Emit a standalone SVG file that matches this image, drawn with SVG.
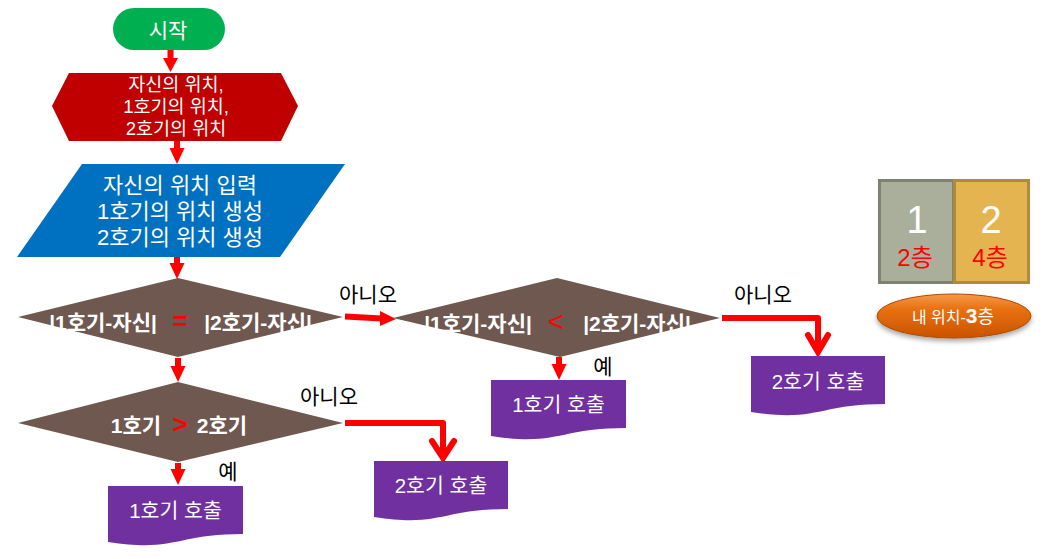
<svg xmlns="http://www.w3.org/2000/svg" width="1048" height="559" viewBox="0 0 1048 559">
<style>
text{font-family:"Liberation Sans","Noto Sans CJK KR",sans-serif}
.w{fill:#fff}
.c{text-anchor:middle}
.lbl{fill:#000;font-size:21px}
.dia{fill:#6f5850}
.doc{fill:#7030a0}
.dt{fill:#fff;font-size:20.5px;text-anchor:middle}
.bt{fill:#fff;font-size:21px;font-weight:bold;text-anchor:middle}
.shaft{stroke:#ff0000;stroke-width:6;fill:none}
.head{fill:#ff0000}
.elbow{stroke:#ff0000;stroke-width:6;fill:none;stroke-linejoin:round}
.chev{stroke:#ff0000;stroke-width:6;fill:none;stroke-linecap:round;stroke-linejoin:miter}
</style>
<defs>
<linearGradient id="og" x1="0" y1="0" x2="0" y2="1">
<stop offset="0" stop-color="#f59a4a"/>
<stop offset="0.35" stop-color="#e8700f"/>
<stop offset="1" stop-color="#c95400"/>
</linearGradient>
<filter id="sh" x="-20%" y="-30%" width="140%" height="170%">
<feDropShadow dx="0" dy="3" stdDeviation="2.5" flood-color="#000" flood-opacity="0.35"/>
</filter>
</defs>

<g id="connectors">
<line class="shaft" x1="170.5" y1="50" x2="170.5" y2="60"/>
<polygon class="head" points="163,58 178,58 170.5,72"/>
<line class="shaft" x1="177" y1="141" x2="177" y2="150"/>
<polygon class="head" points="169.5,148 184.5,148 177,164"/>
<line class="shaft" x1="177" y1="257" x2="177" y2="265"/>
<polygon class="head" points="169.5,263 184.5,263 177,279"/>
<line class="shaft" x1="345" y1="316.5" x2="382" y2="318.5"/>
<polygon class="head" points="380,311 380,326 396,319"/>
<line class="shaft" x1="178" y1="358" x2="178" y2="368"/>
<polygon class="head" points="170.5,366 185.5,366 178,382"/>
<line class="shaft" x1="178" y1="463" x2="178" y2="471"/>
<polygon class="head" points="170.5,469 185.5,469 178,485"/>
<line class="shaft" x1="559" y1="357" x2="559" y2="366"/>
<polygon class="head" points="551.5,364 566.5,364 559,380"/>
<polyline class="elbow" points="345,423 443,423 443,457"/>
<polyline class="chev" points="432,441 443,458 454,441"/>
<polyline class="elbow" points="722,318 818,318 818,352"/>
<polyline class="chev" points="808,335 818,352 828,335"/>
<text class="lbl" x="368" y="302" text-anchor="middle">아니오</text>
<text class="lbl" x="763" y="302" text-anchor="middle">아니오</text>
<text class="lbl" x="329" y="404" text-anchor="middle">아니오</text>
<text class="lbl" x="603" y="374" text-anchor="middle">예</text>
<text class="lbl" x="228" y="479" text-anchor="middle">예</text>
</g>

<g id="start">
<rect x="113" y="8" width="112" height="42" rx="21" fill="#00b050"/>
<text class="w c" x="168" y="38" font-size="21">시작</text>
</g>

<g id="hexagon">
<polygon points="52,106 69,73 281,73 298,106 281,141 69,141" fill="#c00000"/>
<text class="w c" font-size="18.5" x="176" y="91">자신의 위치,</text>
<text class="w c" font-size="18.5" x="176" y="113">1호기의 위치,</text>
<text class="w c" font-size="18.5" x="176" y="135">2호기의 위치</text>
</g>

<g id="input">
<polygon points="82,164 345,164 280,257 17,257" fill="#0070c0"/>
<text class="w c" font-size="22" x="180" y="193">자신의 위치 입력</text>
<text class="w c" font-size="22" x="180" y="219">1호기의 위치 생성</text>
<text class="w c" font-size="22" x="180" y="245">2호기의 위치 생성</text>
</g>

<g id="decision1">
<polygon class="dia" points="18,317 178,278 343,317 178,357"/>
<text class="bt" x="103" y="330">|1호기-자신|</text>
<text x="180" y="330" font-size="26" font-weight="bold" fill="#ff0000" text-anchor="middle">=</text>
<text class="bt" x="258" y="330">|2호기-자신|</text>
</g>

<g id="decision2">
<polygon class="dia" points="393,318 557,278 720,318 560,357"/>
<text class="bt" x="478" y="331">|1호기-자신|</text>
<text x="556" y="331" font-size="28" fill="#ff0000" text-anchor="middle">&lt;</text>
<text class="bt" x="637" y="331">|2호기-자신|</text>
</g>

<g id="decision3">
<polygon class="dia" points="18,423 178,382 343,423 178,462"/>
<text class="bt" x="136" y="433">1호기</text>
<text x="180" y="433" font-size="26" font-weight="bold" fill="#ff0000" text-anchor="middle">&gt;</text>
<text class="bt" x="222" y="433">2호기</text>
</g>

<g id="doc1">
<path class="doc" d="M108,486 H243 V534 C175.5,534 175.5,552.4 108,542 Z"/>
<text class="dt" x="175.5" y="518">1호기 호출</text>
</g>

<g id="doc2">
<path class="doc" d="M374,461 H508 V509 C441,509 441,527.4 374,517 Z"/>
<text class="dt" x="441" y="493">2호기 호출</text>
</g>

<g id="doc3">
<path class="doc" d="M491,380 H626 V428 C558.5,428 558.5,446.4 491,436 Z"/>
<text class="dt" x="558.5" y="412">1호기 호출</text>
</g>

<g id="doc4">
<path class="doc" d="M751,356 H885 V404 C818,404 818,422.4 751,412 Z"/>
<text class="dt" x="818" y="389">2호기 호출</text>
</g>

<g id="elevator1">
<rect x="879.5" y="180.5" width="74" height="102" fill="#a9af9b" stroke="#7e8272" stroke-width="3"/>
<text class="w c" x="917" y="233" font-size="38">1</text>
<text class="c" x="915" y="266" font-size="24" fill="#ff0000">2층</text>
</g>

<g id="elevator2">
<rect x="954.5" y="180.5" width="74" height="102" fill="#e4b450" stroke="#ad8a3c" stroke-width="3"/>
<text class="w c" x="991" y="233" font-size="38">2</text>
<text class="c" x="990" y="266" font-size="24" fill="#ff0000">4층</text>
</g>

<g id="mypos">
<ellipse cx="954" cy="316" rx="77" ry="22" fill="url(#og)" stroke="#b04a00" stroke-width="1" filter="url(#sh)"/>
<text class="w c" x="953" y="323"><tspan font-size="16">내 위치-</tspan><tspan font-size="21" font-weight="bold">3</tspan><tspan font-size="18">층</tspan></text>
</g>
</svg>
